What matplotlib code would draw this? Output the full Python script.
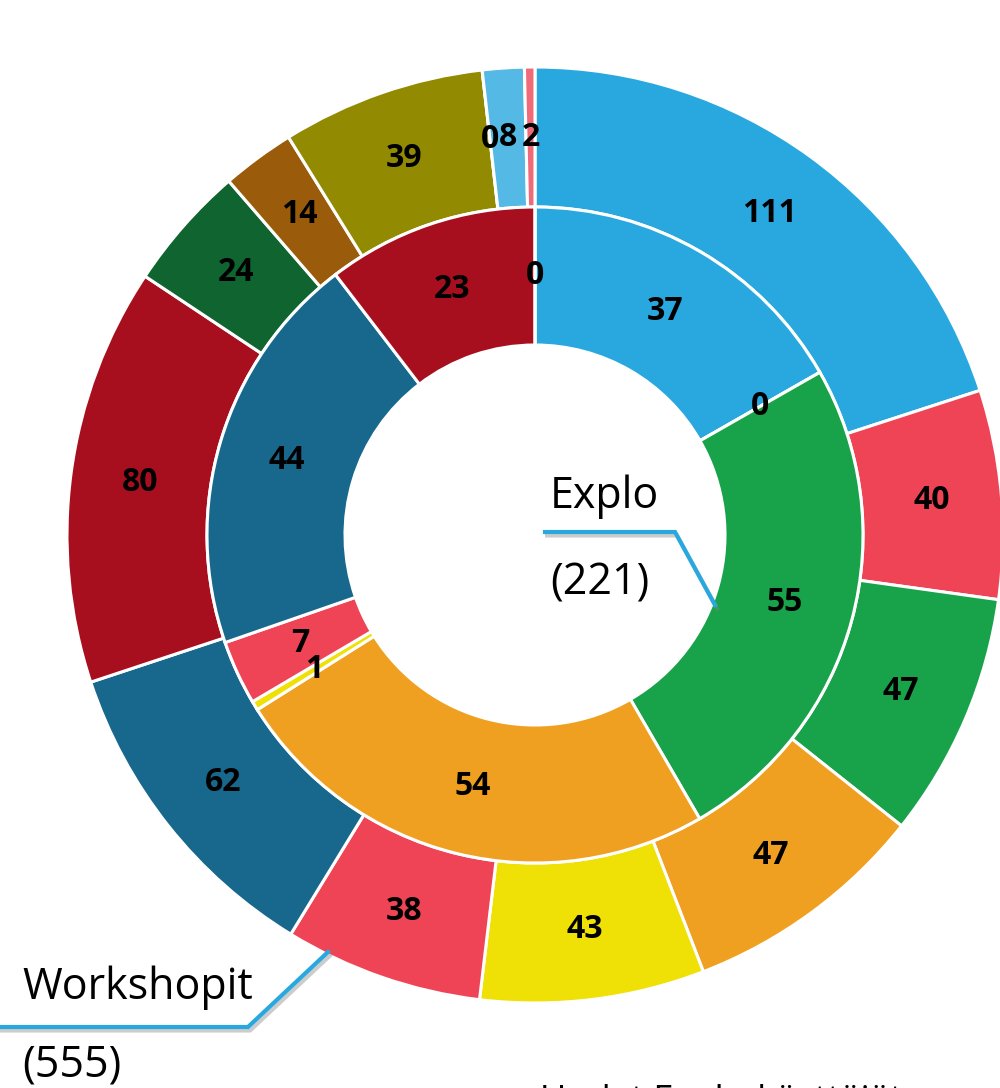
import matplotlib.pyplot as plt
import matplotlib.patheffects as pe

# sisärengas: Explo (221)
inner_values = [37, 0, 55, 54, 1, 7, 44, 23, 0]
inner_colors = ['#29a8e0', '#ef4455', '#18a34a', '#f0a020', '#efe006',
                '#ef4455', '#17688c', '#a80f1e', '#0f6430']

# ulkorengas: Workshopit (555)
outer_values = [111, 40, 47, 47, 43, 38, 62, 80, 24, 14, 39, 0, 8, 2]
outer_colors = ['#29a8e0', '#ef4455', '#18a34a', '#f0a020', '#efe006',
                '#ef4455', '#17688c', '#a80f1e', '#0f6430', '#9a5c0a',
                '#928a00', '#55b9e6', '#55b9e6', '#f06b79']

inner_name, outer_name = 'Explo', 'Workshopit'
footer = 'Uudet Explo-käyttäjät'

plt.rcParams['font.family'] = ['Open Sans', 'Lato', 'DejaVu Sans']

fig = plt.figure(figsize=(10, 10.88), dpi=100)
ax = fig.add_axes([0, 0, 1, 1])

R_out, R_mid, R_in = 468, 328, 190


def make_fmt(vals):
    total = sum(vals)
    return lambda p: f'{p * total / 100:.0f}'


num_props = dict(fontsize=23, fontweight='bold', color='black')
edge = dict(edgecolor='white', linewidth=2.2)

ax.pie(outer_values, colors=outer_colors, radius=R_out, startangle=90,
       counterclock=False, wedgeprops=dict(width=R_out - R_mid, **edge),
       autopct=make_fmt(outer_values),
       pctdistance=(R_out + R_mid) / 2 / R_out, textprops=num_props)
ax.pie(inner_values, colors=inner_colors, radius=R_mid, startangle=90,
       counterclock=False, wedgeprops=dict(width=R_mid - R_in, **edge),
       autopct=make_fmt(inner_values),
       pctdistance=(R_mid + R_in) / 2 / R_mid, textprops=num_props)

# pie() asettaa omat rajat, joten rajat vasta tässä
ax.set_xlim(-535, 465)
ax.set_ylim(-553, 535)
ax.set_aspect('equal')
ax.axis('off')

shadow = [pe.SimpleLineShadow(offset=(1.5, -2.5), shadow_color='gray', alpha=0.4),
          pe.Normal()]

# Explo-selite
ax.plot([10, 140, 180], [3, 3, -70], color='#29a8e0', lw=3,
        solid_joinstyle='miter', path_effects=shadow, clip_on=False)
ax.text(15, 38, inner_name, fontsize=31, ha='left', va='center')
ax.text(15, -48, f'({sum(inner_values)})', fontsize=31, ha='left', va='center')

# Workshopit-selite
ax.plot([-540, -287, -207], [-492, -492, -417], color='#29a8e0', lw=3,
        solid_joinstyle='miter', path_effects=shadow, clip_on=False)
ax.text(-513, -453, outer_name, fontsize=31, ha='left', va='center')
ax.text(-513, -530, f'({sum(outer_values)})', fontsize=31, ha='left', va='center')

ax.text(5, -567, footer, fontsize=26, ha='left', va='center')

fig.savefig('out.png', dpi=100)
